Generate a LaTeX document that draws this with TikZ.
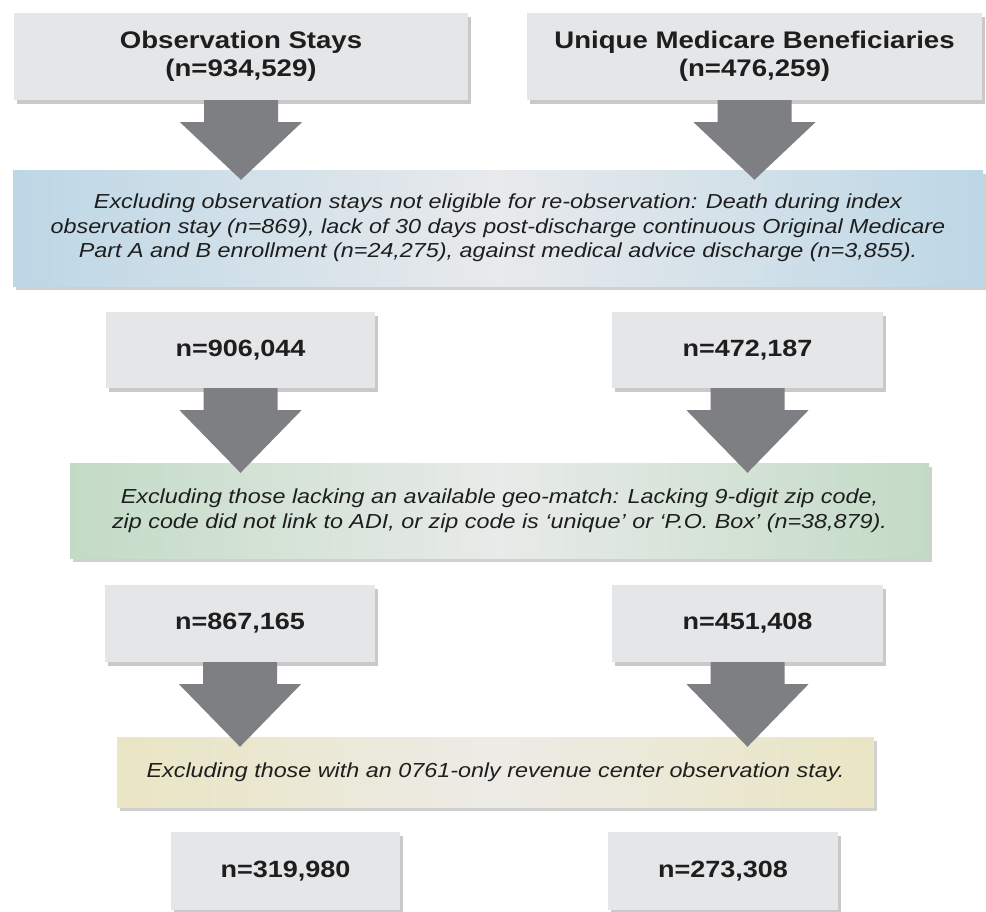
\documentclass[tikz,border=0pt]{standalone}
\usepackage{fontspec}
\setmainfont[FakeStretch=1.15]{Liberation Sans}
\usetikzlibrary{calc,shadows}
\definecolor{boxgray}{HTML}{E5E6E8}
\definecolor{arrowc}{HTML}{7E7F83}
\definecolor{blueL}{HTML}{BDD7E6}
\definecolor{blueM}{HTML}{E8EAEC}
\definecolor{greenL}{HTML}{C3DBC6}
\definecolor{greenM}{HTML}{E8EBE9}
\definecolor{yelL}{HTML}{EAE5C3}
\definecolor{yelM}{HTML}{ECEBE6}
\definecolor{textc}{HTML}{1E1E1E}
\tikzset{
  graybox/.style={fill=boxgray, draw=none, inner sep=0pt, align=center, text=textc,
    drop shadow={shadow xshift=3pt, shadow yshift=-4pt, opacity=0.35, fill=black!60}},
  titlebox/.style={graybox, font=\fontsize{24}{28}\selectfont\bfseries},
  numbox/.style={graybox, font=\fontsize{23.5}{25}\selectfont\bfseries},
  exclbox/.style={draw=none, inner sep=0pt, align=center, text=textc,
    font=\fontsize{20.3}{24.5}\selectfont\itshape,
    drop shadow={shadow xshift=3pt, shadow yshift=-4pt, opacity=0.3, fill=black!60}},
  bluebox/.style={exclbox, left color=blueL, right color=blueL, middle color=blueM},
  greenbox/.style={exclbox, left color=greenL, right color=greenL, middle color=greenM},
  yelbox/.style={exclbox, left color=yelL, right color=yelL, middle color=yelM},
}
\newcommand\blockarrow[2]{%
  \fill[arrowc] let \p1=(#1.south), \p2=(#2.north) in
    (\x1-37pt,\y1) -- (\x1+37pt,\y1) -- (\x1+37pt,\y1-22pt) -- (\x1+61pt,\y1-22pt)
    -- (\x1,\y2-10pt) -- (\x1-61pt,\y1-22pt) -- (\x1-37pt,\y1-22pt) -- cycle;}
\begin{document}
\begin{tikzpicture}[x=1pt,y=-1pt]
\useasboundingbox[fill=white] (0,0) rectangle (986,911);
% row 1
\node[titlebox, minimum width=454pt, minimum height=87pt] (os) at (241,56.5)
  {Observation Stays\\(n=934,529)};
\node[titlebox, minimum width=455pt, minimum height=87pt] (umb) at (754.5,56.5)
  {Unique Medicare Beneficiaries\\(n=476,259)};
% exclusion 1
\node[bluebox, minimum width=970pt, minimum height=116pt] (ex1) at (498,228)
  {Excluding observation stays not eligible for re-observation: Death during index\\
   observation stay (n=869), lack of 30 days post-discharge continuous Original Medicare\\
   Part A and B enrollment (n=24,275), against medical advice discharge (n=3,855).};
% row 2
\node[numbox, minimum width=269pt, minimum height=76pt] (l2) at (240.5,350) {n=906,044};
\node[numbox, minimum width=271pt, minimum height=76pt] (r2) at (747.5,350) {n=472,187};
% exclusion 2
\node[greenbox, minimum width=859pt, minimum height=95pt] (ex2) at (499.5,510.5)
  {Excluding those lacking an available geo-match: Lacking 9-digit zip code,\\
   zip code did not link to ADI, or zip code is ‘unique’ or ‘P.O. Box’ (n=38,879).};
% row 3
\node[numbox, minimum width=270pt, minimum height=77pt] (l3) at (240,623.5) {n=867,165};
\node[numbox, minimum width=271pt, minimum height=77pt] (r3) at (747.5,623.5) {n=451,408};
% exclusion 3
\node[yelbox, minimum width=757pt, minimum height=70pt] (ex3) at (495.5,772)
  {Excluding those with an 0761-only revenue center observation stay.};
% row 4
\node[numbox, minimum width=229pt, minimum height=78pt] (l4) at (285.5,871) {n=319,980};
\node[numbox, minimum width=230pt, minimum height=78pt] (r4) at (723,871) {n=273,308};
% arrows
\blockarrow{os}{ex1}
\blockarrow{umb}{ex1}
\blockarrow{l2}{ex2}
\blockarrow{r2}{ex2}
\blockarrow{l3}{ex3}
\blockarrow{r3}{ex3}
\end{tikzpicture}
\end{document}
